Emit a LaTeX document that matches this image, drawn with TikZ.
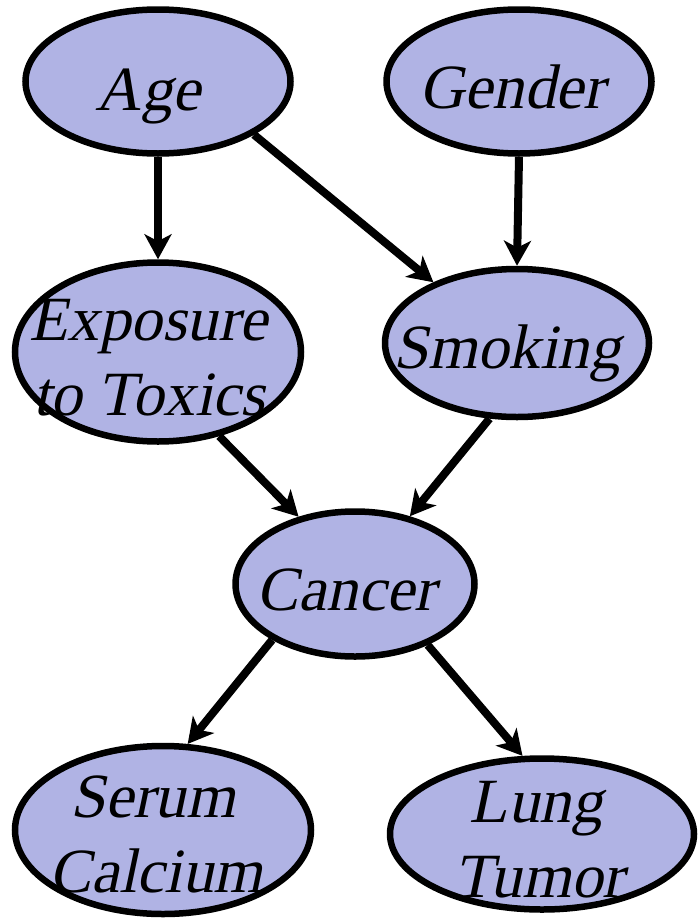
\documentclass[tikz,border=0pt]{standalone}
\usepackage{fontspec}
\newfontfamily\bnfont{Liberation Serif}
\usetikzlibrary{shapes.geometric,arrows.meta}
\definecolor{bnfill}{RGB}{176,179,228}
\begin{document}
\begin{tikzpicture}[x=1pt,y=-1pt,
  bn/.style={ellipse, draw=black, line width=6.5pt, fill=bnfill, inner sep=0pt, outer sep=3.25pt},
  lbl/.style={font=\bnfont\fontsize{63}{75}\selectfont, inner sep=0pt, anchor=base},
  slant/.style={xslant=0.21, transform shape},
  edge/.style={line width=8pt, -{Stealth[length=25pt,width=27pt,inset=7pt]}}]
\useasboundingbox (0,0) rectangle (699,918);
% ellipses
\node[bn, minimum width=265pt, minimum height=144pt] (age) at (158,81.5) {};
\node[bn, minimum width=265pt, minimum height=144pt] (gen) at (519,81.5) {};
\node[bn, minimum width=286pt, minimum height=179pt] (exp) at (158,352) {};
\node[bn, minimum width=264pt, minimum height=148pt] (smk) at (517,343) {};
\node[bn, minimum width=239pt, minimum height=145pt] (can) at (355,584) {};
\node[bn, minimum width=296pt, minimum height=168pt] (ser) at (163,830) {};
\node[bn, minimum width=304pt, minimum height=151pt] (lun) at (542,834) {};
% labels (one node per printed line, slanted about its baseline)
\begin{scope}[shift={(148,110)}, slant]
  \node[lbl] (tage) at (0,0) {Age};
\end{scope}
\begin{scope}[shift={(512,108)}, slant]
  \node[lbl] (tgen) at (0,0) {Gender};
\end{scope}
\begin{scope}[shift={(148,340)}, slant]
  \node[lbl] (texpa) at (0,0) {Exposure};
\end{scope}
\begin{scope}[shift={(149,415)}, slant]
  \node[lbl] (texpb) at (0,0) {to Toxics};
\end{scope}
\begin{scope}[shift={(507,368)}, slant]
  \node[lbl] (tsmk) at (0,0) {Smoking};
\end{scope}
\begin{scope}[shift={(346,610)}, slant]
  \node[lbl] (tcan) at (0,0) {Cancer};
\end{scope}
\begin{scope}[shift={(153,817)}, slant]
  \node[lbl] (tsera) at (0,0) {Serum};
\end{scope}
\begin{scope}[shift={(156,892)}, slant]
  \node[lbl] (tserb) at (0,0) {Calcium};
\end{scope}
\begin{scope}[shift={(536,822)}, slant]
  \node[lbl] (tluna) at (0,0) {Lung};
\end{scope}
\begin{scope}[shift={(539,897)}, slant]
  \node[lbl] (tlunb) at (0,0) {Tumor};
\end{scope}
% connectors
\draw[edge] (age.south) -- (exp.north);
\draw[edge] (age.-29.8) -- (smk.144.3);
\draw[edge] (gen.south) -- (smk.north);
\draw[edge] (exp.-54.8) -- (can.130.4);
\draw[edge] (smk.-110.4) -- (can.51.4);
\draw[edge] (can.-146.2) -- (ser.74.7);
\draw[edge] (can.-40.5) -- (lun.104.9);
\end{tikzpicture}
\end{document}
